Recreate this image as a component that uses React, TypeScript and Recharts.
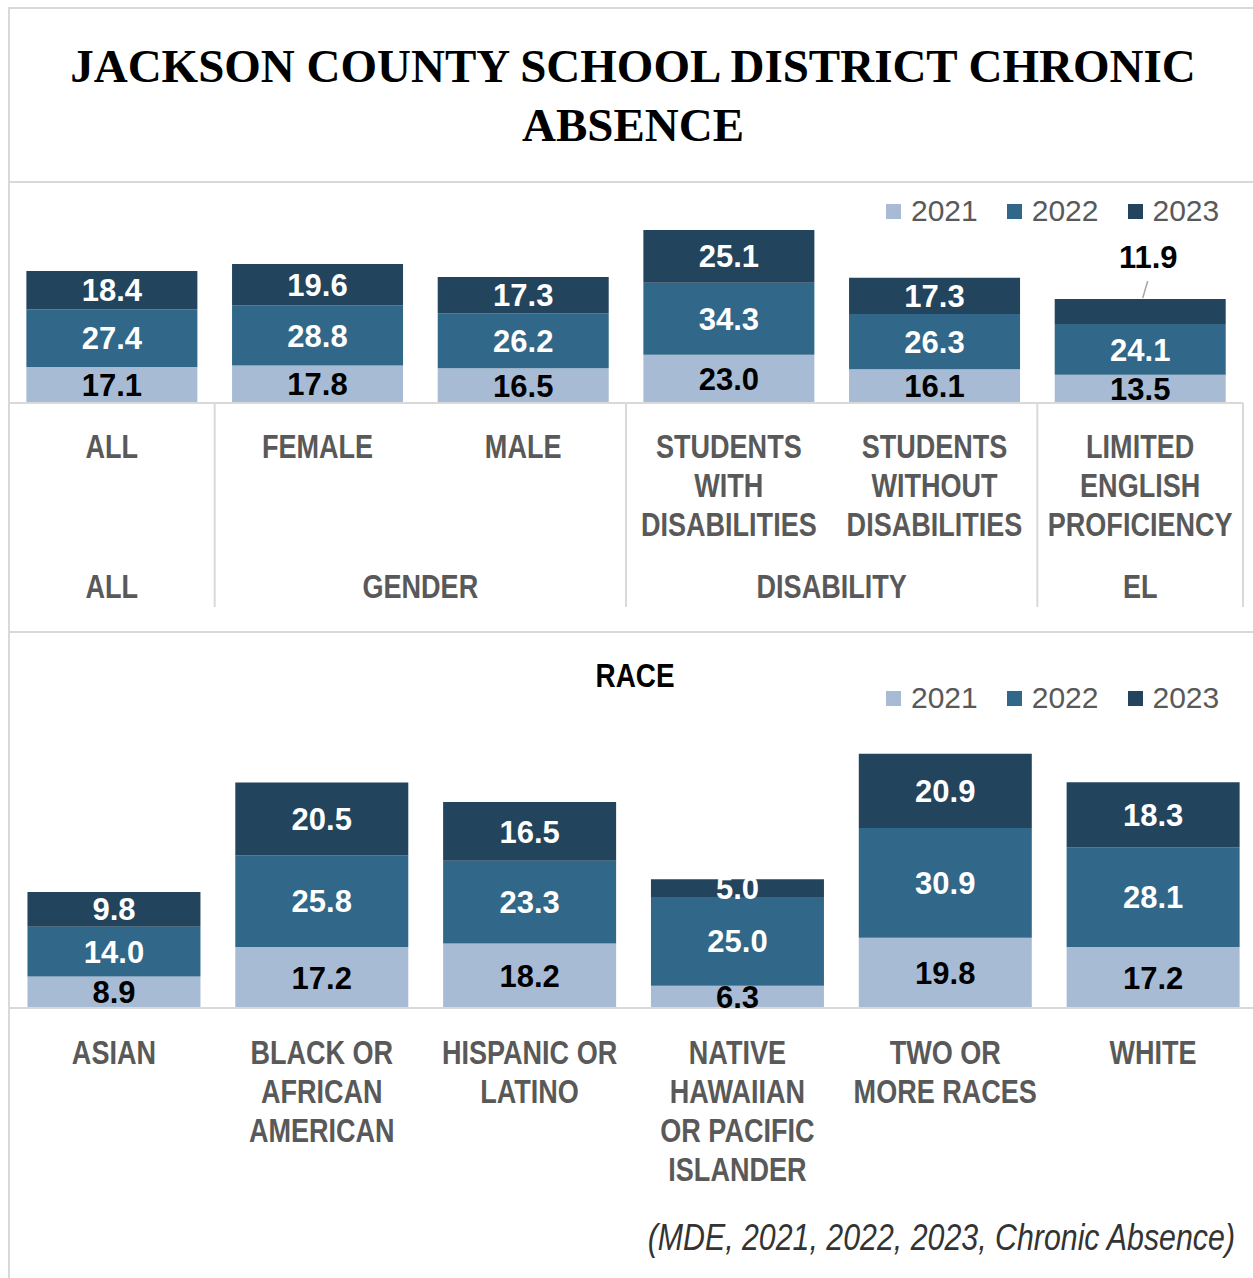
import { BarChart, Bar, XAxis, YAxis, Legend, LabelList } from 'recharts'

// years / series
const years = ['2021', '2022', '2023']
const yearColors = ['#A7BCD4', '#316789', '#23445D']
const labelColors = ['#000000', '#ffffff', '#ffffff']

// top panel: subgroup categories
const topCategories = [
  'ALL',
  'FEMALE',
  'MALE',
  'STUDENTS\nWITH\nDISABILITIES',
  'STUDENTS\nWITHOUT\nDISABILITIES',
  'LIMITED\nENGLISH\nPROFICIENCY'
]
const topGroups = ['ALL', 'GENDER', 'GENDER', 'DISABILITY', 'DISABILITY', 'EL']
const top2021 = [17.1, 17.8, 16.5, 23.0, 16.1, 13.5]
const top2022 = [27.4, 28.8, 26.2, 34.3, 26.3, 24.1]
const top2023 = [18.4, 19.6, 17.3, 25.1, 17.3, 11.9]
// labels drawn outside the bar with a leader line
const topCallouts = ['LIMITED\nENGLISH\nPROFICIENCY']

// bottom panel: race
const raceCategories = [
  'ASIAN',
  'BLACK OR\nAFRICAN\nAMERICAN',
  'HISPANIC OR\nLATINO',
  'NATIVE\nHAWAIIAN\nOR PACIFIC\nISLANDER',
  'TWO OR\nMORE RACES',
  'WHITE'
]
const race2021 = [8.9, 17.2, 18.2, 6.3, 19.8, 17.2]
const race2022 = [14.0, 25.8, 23.3, 25.0, 30.9, 28.1]
const race2023 = [9.8, 20.5, 16.5, 5.0, 20.9, 18.3]

const titleLines = ['JACKSON COUNTY SCHOOL DISTRICT CHRONIC', 'ABSENCE']
const raceTitle = 'RACE'
const sourceNote = '(MDE, 2021, 2022, 2023, Chronic Absence)'

const topData = topCategories.map((name, i) => ({
  name,
  group: topGroups[i],
  y2021: top2021[i],
  y2022: top2022[i],
  y2023: top2023[i]
}))

const raceData = raceCategories.map((name, i) => ({
  name,
  y2021: race2021[i],
  y2022: race2022[i],
  y2023: race2023[i]
}))

const SANS = '"Liberation Sans", Arial, sans-serif'
const SERIF = '"Liberation Serif", serif'
const GRID = '#d9d9d9'
const AXIS_TEXT = '#595959'

// condensed text: the reference face is narrow, so squeeze Liberation Sans
function NarrowText({ x, y, anchor = 'middle', size = 33, fill = AXIS_TEXT, italic = false, bold = true, children }: any) {
  return (
    <text
      transform={`translate(${x},${y}) scale(0.82,1)`}
      textAnchor={anchor}
      fill={fill}
      fontFamily={SANS}
      fontWeight={bold ? 'bold' : 'normal'}
      fontStyle={italic ? 'italic' : 'normal'}
      fontSize={size}
    >
      {children}
    </text>
  )
}

function makeLabel(fill: string, cats: string[], callouts: string[] = []) {
  return (props: any) => {
    const vb = props.viewBox ?? props
    const x = Number(vb.x ?? props.x)
    const y = Number(vb.y ?? props.y)
    const width = Number(vb.width ?? props.width)
    const height = Number(vb.height ?? props.height)
    const cx = x + width / 2
    const text = Number(props.value).toFixed(1)
    if (callouts.includes(cats[props.index])) {
      return (
        <g>
          <line x1={cx + 7.5} y1={y - 18} x2={cx + 2.5} y2={y - 1} stroke="#a6a6a6" strokeWidth={1.5} />
          <text x={cx + 8} y={y - 31} textAnchor="middle" fill="#000" fontFamily={SANS} fontWeight="bold" fontSize={31}>
            {text}
          </text>
        </g>
      )
    }
    return (
      <text
        x={cx}
        y={y + height / 2}
        dy="0.36em"
        textAnchor="middle"
        fill={fill}
        fontFamily={SANS}
        fontWeight="bold"
        fontSize={31}
      >
        {text}
      </text>
    )
  }
}

function YearLegend({ payload }: any) {
  return (
    <div style={{ display: 'flex', alignItems: 'center', height: 30 }}>
      {(payload || []).map((p: any) => (
        <div key={p.value} style={{ display: 'flex', alignItems: 'center', marginRight: 29 }}>
          <span style={{ display: 'inline-block', width: 15, height: 15, background: p.color, marginRight: 10 }} />
          <span style={{ fontFamily: SANS, fontSize: 30, lineHeight: '30px', color: AXIS_TEXT }}>{p.value}</span>
        </div>
      ))}
    </div>
  )
}

function TopTick(props: any) {
  const { x, y, payload, width, visibleTicksCount } = props
  const idx = payload.index
  const half = payload.offset ?? width / visibleTicksCount / 2
  const lines = String(payload.value).split('\n')
  const group = topGroups[idx]
  const isLast = topGroups[idx + 1] !== group
  const count = topGroups.filter((g) => g === group).length
  return (
    <g>
      {lines.map((l, k) => (
        <NarrowText key={k} x={x} y={y + 55 + k * 39}>
          {l}
        </NarrowText>
      ))}
      {isLast && (
        <>
          <line x1={x + half} y1={y} x2={x + half} y2={y + 204} stroke={GRID} strokeWidth={2} />
          <NarrowText x={x - (count - 1) * half} y={y + 195}>
            {group}
          </NarrowText>
        </>
      )}
    </g>
  )
}

function RaceTick(props: any) {
  const { x, y, payload } = props
  const lines = String(payload.value).split('\n')
  return (
    <g>
      {lines.map((l, k) => (
        <NarrowText key={k} x={x} y={y + 56 + k * 39}>
          {l}
        </NarrowText>
      ))}
    </g>
  )
}

const seriesKeys = ['y2021', 'y2022', 'y2023']

export default function App() {
  return (
    <div
      style={{
        position: 'absolute',
        left: 0,
        top: 0,
        width: 1253,
        height: 1278,
        overflow: 'hidden',
        background: '#fff'
      }}
    >
      <svg width={1253} height={1278} style={{ position: 'absolute', left: 0, top: 0 }}>
        <line x1={9} y1={7} x2={9} y2={1278} stroke={GRID} strokeWidth={2} />
        <line x1={8} y1={8} x2={1253} y2={8} stroke={GRID} strokeWidth={2} />
        <line x1={9} y1={182} x2={1253} y2={182} stroke={GRID} strokeWidth={2} />
        <line x1={9} y1={632} x2={1253} y2={632} stroke={GRID} strokeWidth={2} />
        <text x={633} y={82} textAnchor="middle" fontFamily={SERIF} fontWeight="bold" fontSize={47} fill="#000">
          {titleLines[0]}
        </text>
        <text x={633} y={141} textAnchor="middle" fontFamily={SERIF} fontWeight="bold" fontSize={47} fill="#000">
          {titleLines[1]}
        </text>
        <NarrowText x={635} y={687} size={34} fill="#000">
          {raceTitle}
        </NarrowText>
        <NarrowText x={1235} y={1250} anchor="end" size={37} fill="#333" italic bold={false}>
          {sourceNote}
        </NarrowText>
      </svg>

      <div style={{ position: 'absolute', left: 0, top: 182 }}>
        <BarChart
          width={1253}
          height={450}
          data={topData}
          margin={{ top: 11, right: 10, left: 9, bottom: 0 }}
          barCategoryGap="8.45%"
        >
          <XAxis
            dataKey="name"
            interval={0}
            tickLine={false}
            tickSize={0}
            tickMargin={0}
            height={229}
            axisLine={{ stroke: GRID, strokeWidth: 2 }}
            tick={<TopTick />}
          />
          <YAxis hide domain={[0, 100]} />
          <Legend
            layout="horizontal"
            verticalAlign="middle"
            align="center"
            content={<YearLegend />}
            wrapperStyle={{ left: 886, top: 14, width: 400 }}
          />
          {seriesKeys.map((k, i) => (
            <Bar key={k} dataKey={k} name={years[i]} stackId="a" fill={yearColors[i]} isAnimationActive={false}>
              <LabelList
                dataKey={k}
                content={makeLabel(labelColors[i], topCategories, i === 2 ? topCallouts : [])}
              />
            </Bar>
          ))}
        </BarChart>
      </div>

      <div style={{ position: 'absolute', left: 0, top: 632 }}>
        <BarChart
          width={1260}
          height={646}
          data={raceData}
          margin={{ top: 92, right: 3, left: 10, bottom: 0 }}
          barCategoryGap="8.4%"
        >
          <XAxis
            dataKey="name"
            interval={0}
            tickLine={false}
            tickSize={0}
            tickMargin={0}
            height={270}
            axisLine={{ stroke: GRID, strokeWidth: 2 }}
            tick={<RaceTick />}
          />
          <YAxis hide domain={[0, 80]} />
          <Legend
            layout="horizontal"
            verticalAlign="middle"
            align="center"
            content={<YearLegend />}
            wrapperStyle={{ left: 886, top: 51, width: 400 }}
          />
          {seriesKeys.map((k, i) => (
            <Bar key={k} dataKey={k} name={years[i]} stackId="a" fill={yearColors[i]} isAnimationActive={false}>
              <LabelList dataKey={k} content={makeLabel(labelColors[i], raceCategories)} />
            </Bar>
          ))}
        </BarChart>
      </div>
    </div>
  )
}
